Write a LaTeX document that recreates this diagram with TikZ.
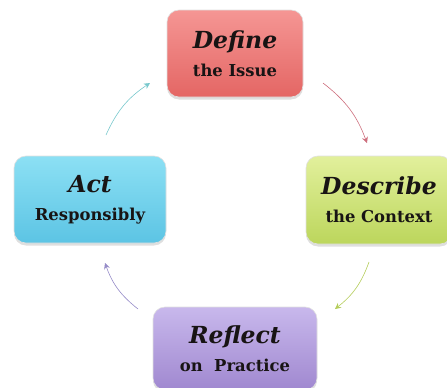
\documentclass[tikz,border=0pt]{standalone}
\usepackage{fontspec}
\setmainfont{DejaVu Serif}
\usetikzlibrary{arrows.meta,shadows}

\definecolor{defTop}{RGB}{245,150,148}
\definecolor{defBot}{RGB}{228,102,100}
\definecolor{desTop}{RGB}{226,240,156}
\definecolor{desBot}{RGB}{188,214,92}
\definecolor{actTop}{RGB}{140,224,244}
\definecolor{actBot}{RGB}{92,196,228}
\definecolor{refTop}{RGB}{200,184,236}
\definecolor{refBot}{RGB}{160,136,208}
\definecolor{ink}{RGB}{24,20,20}

\tikzset{
  stage/.style={rounded corners=12pt, draw=black!12, line width=0.6pt,
    align=center, text=ink, inner sep=0pt,
    font=\fontsize{16}{28}\selectfont,
    drop shadow={opacity=0.25, shadow xshift=0pt, shadow yshift=-2.5pt}},
  cyc/.style={line width=0.6pt, bend left=16,
    -{Stealth[length=6pt,width=6pt]}},
}
\newcommand{\stagetitle}[1]{{\fontsize{23.5}{28}\selectfont\bfseries\itshape #1}}
\newcommand{\stagesub}[1]{{\fontsize{16.4}{28}\selectfont\bfseries #1}}

\begin{document}
\begin{tikzpicture}[x=1pt,y=-1pt]
\useasboundingbox (0,0) rectangle (447,388);
\begin{scope}
\clip (0,0) rectangle (447,388);

% the four stages of the cycle
\node[stage, top color=defTop, bottom color=defBot,
      minimum width=136pt, minimum height=87pt] (define) at (235,53.5)
  {\stagetitle{Define}\\\stagesub{the Issue}};
\node[stage, top color=desTop, bottom color=desBot,
      minimum width=146pt, minimum height=88pt] (describe) at (379,200)
  {\stagetitle{Describe}\\\stagesub{the Context}};
\node[stage, top color=refTop, bottom color=refBot,
      minimum width=164pt, minimum height=83pt] (reflect) at (235,348.5)
  {\stagetitle{Reflect}\\\stagesub{on\ \ Practice}};
\node[stage, top color=actTop, bottom color=actBot,
      minimum width=152pt, minimum height=87pt] (act) at (90,199.5)
  {\stagetitle{Act}\\\stagesub{Responsibly}};
\end{scope}

% end points of the connecting arcs
\coordinate (actOut) at (106,135);
\coordinate (defIn) at (150,83);
\coordinate (defOut) at (323,83);
\coordinate (desIn) at (367,143);
\coordinate (desOut) at (369,262);
\coordinate (refIn) at (335,309);
\coordinate (refOut) at (138,309);
\coordinate (actIn) at (105,263);

\draw[cyc, draw={rgb,255:red,160;green,196;blue,198}, color={rgb,255:red,120;green,200;blue,205}] (actOut) to (defIn);
\draw[cyc, draw={rgb,255:red,196;green,150;blue,160}, color={rgb,255:red,205;green,110;blue,125}] (defOut) to (desIn);
\draw[cyc, draw={rgb,255:red,178;green,190;blue,150}, color={rgb,255:red,180;green,205;blue,90}] (desOut) to (refIn);
\draw[cyc, draw={rgb,255:red,160;green,156;blue,180}, color={rgb,255:red,150;green,140;blue,200}] (refOut) to (actIn);
\end{tikzpicture}
\end{document}
